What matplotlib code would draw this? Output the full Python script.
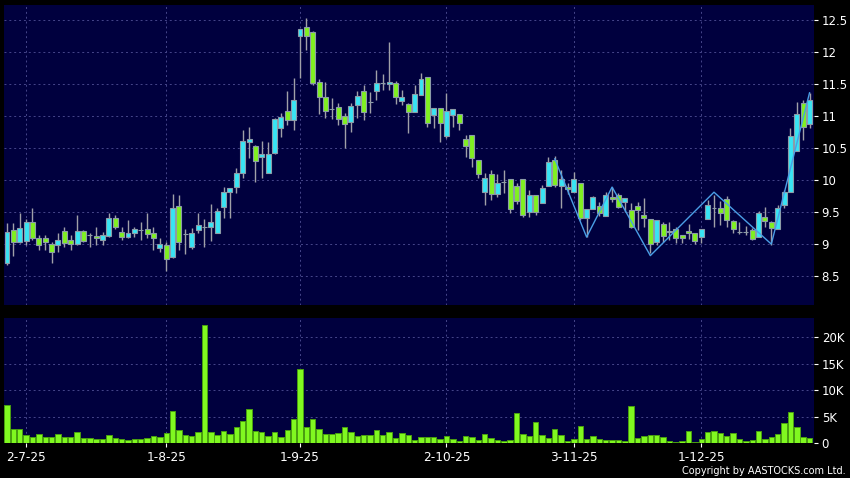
import numpy as np
from matplotlib import pyplot as plt

#----------------- donnees -----------------

opens = [8.70, 9.22, 9.03, 9.05, 9.35, 9.10, 9.10, 9.00, 8.98, 9.20,
         9.06, 9.00, 9.20, 9.14, 9.12, 9.06, 9.13, 9.40, 9.19, 9.11,
         9.17, 9.22, 9.23, 9.17, 8.94, 8.98, 8.80, 9.59, 9.16, 8.96,
         9.22, 9.27, 9.26, 9.17, 9.58, 9.81, 9.89, 10.11, 10.59, 10.53,
         10.36, 10.11, 10.42, 10.81, 11.08, 10.94, 12.25, 12.39, 12.31, 11.53,
         11.30, 11.11, 11.14, 11.00, 10.91, 11.17, 11.39, 11.22, 11.39, 11.52,
         11.50, 11.52, 11.23, 11.19, 11.06, 11.33, 11.61, 11.02, 11.13, 10.69,
         11.02, 11.03, 10.64, 10.70, 10.31, 9.81, 10.09, 9.78, 9.97, 10.02,
         9.91, 10.02, 9.50, 9.77, 9.64, 9.91, 10.31, 9.91, 9.89, 9.81,
         9.95, 9.41, 9.55, 9.59, 9.44, 9.74, 9.77, 9.66, 9.53, 9.59,
         9.45, 9.39, 9.03, 9.31, 9.19, 9.23, 9.14, 9.20, 9.17, 9.11,
         9.39, 9.56, 9.56, 9.70, 9.36, 9.19, 9.19, 9.22, 9.11, 9.42,
         9.34, 9.23, 9.61, 9.81, 10.45, 11.20, 10.88]
highs = [9.33, 9.33, 9.48, 9.39, 9.56, 9.14, 9.14, 9.04, 9.18, 9.27,
         9.14, 9.45, 9.22, 9.17, 9.27, 9.19, 9.48, 9.45, 9.27, 9.38,
         9.27, 9.35, 9.48, 9.27, 9.09, 9.04, 9.78, 9.77, 9.23, 9.25,
         9.48, 9.39, 9.63, 9.56, 9.89, 9.87, 10.19, 10.78, 10.83, 10.55,
         10.61, 10.59, 10.97, 11.05, 11.39, 11.59, 12.36, 12.52, 12.33, 11.58,
         11.53, 11.28, 11.20, 11.05, 11.20, 11.39, 11.48, 11.38, 11.72, 11.66,
         12.16, 11.55, 11.41, 11.20, 11.48, 11.67, 11.61, 11.13, 11.13, 11.36,
         11.11, 11.03, 10.70, 10.70, 10.31, 10.11, 10.16, 10.09, 10.16, 10.02,
         9.95, 10.02, 9.84, 9.77, 9.92, 10.36, 10.38, 10.16, 9.95, 10.13,
         9.95, 9.55, 9.75, 9.66, 9.81, 9.89, 9.80, 9.72, 9.64, 9.66,
         9.72, 9.39, 9.38, 9.34, 9.34, 9.27, 9.14, 9.31, 9.17, 9.23,
         9.69, 9.77, 9.67, 9.75, 9.38, 9.34, 9.28, 9.25, 9.52, 9.58,
         9.36, 9.61, 9.84, 10.81, 11.22, 11.25, 11.36]
lows = [8.67, 8.81, 9.02, 8.98, 9.06, 8.91, 8.91, 8.70, 8.88, 8.96,
        8.91, 8.98, 9.04, 8.96, 8.98, 8.98, 9.11, 9.23, 9.06, 9.09,
        9.11, 9.06, 9.09, 8.91, 8.88, 8.58, 8.78, 8.91, 8.84, 8.93,
        9.17, 8.95, 9.05, 9.17, 9.41, 9.41, 9.80, 10.03, 10.34, 9.97,
        10.03, 10.11, 10.40, 10.67, 10.86, 10.78, 11.59, 12.03, 11.48, 11.03,
        10.97, 10.95, 10.86, 10.50, 10.75, 10.97, 10.94, 11.05, 11.25, 11.41,
        11.41, 11.19, 11.17, 10.73, 11.06, 11.33, 10.83, 10.81, 10.59, 10.66,
        10.83, 10.78, 10.36, 10.20, 10.03, 9.61, 9.69, 9.73, 9.80, 9.48,
        9.63, 9.42, 9.42, 9.45, 9.64, 9.91, 9.89, 9.57, 9.78, 9.81,
        9.38, 9.11, 9.55, 9.44, 9.44, 9.66, 9.56, 9.50, 9.25, 9.22,
        9.27, 8.86, 8.98, 9.03, 9.06, 9.02, 9.02, 9.08, 9.00, 9.02,
        9.39, 9.27, 9.30, 9.27, 9.17, 9.16, 9.14, 9.06, 9.11, 9.27,
        8.98, 9.23, 9.56, 9.81, 10.45, 10.63, 10.81]
closes = [9.19, 9.03, 9.25, 9.35, 9.09, 8.98, 9.03, 8.87, 9.07, 9.01,
          9.00, 9.20, 9.05, 9.14, 9.09, 9.14, 9.40, 9.27, 9.11, 9.17,
          9.23, 9.22, 9.16, 9.09, 9.00, 8.76, 9.57, 9.04, 9.16, 9.18,
          9.30, 9.27, 9.34, 9.52, 9.81, 9.87, 10.11, 10.61, 10.64, 10.30,
          10.41, 10.41, 10.95, 10.98, 10.94, 11.25, 12.36, 12.25, 11.52, 11.30,
          11.08, 11.11, 10.95, 10.87, 11.16, 11.31, 11.06, 11.22, 11.52, 11.52,
          11.53, 11.30, 11.30, 11.06, 11.34, 11.58, 10.89, 11.13, 10.89, 11.08,
          11.11, 10.89, 10.53, 10.34, 10.09, 10.03, 9.78, 9.95, 9.97, 9.55,
          9.67, 9.45, 9.77, 9.50, 9.88, 10.28, 9.92, 10.02, 9.86, 10.02,
          9.41, 9.55, 9.73, 9.48, 9.77, 9.70, 9.58, 9.72, 9.27, 9.53,
          9.41, 9.00, 9.38, 9.13, 9.21, 9.09, 9.09, 9.17, 9.05, 9.23,
          9.61, 9.56, 9.48, 9.38, 9.23, 9.19, 9.19, 9.08, 9.48, 9.36,
          9.25, 9.56, 9.81, 10.69, 11.03, 10.83, 11.25]

# volume en milliers d'actions
volume_k = [7.2, 2.7, 2.7, 1.6, 1.1, 1.75, 1.05, 1.2, 1.75, 1.05,
            1.2, 2.1, 1.0, 1.0, 0.75, 0.75, 1.45, 1.0, 0.8, 0.5,
            0.8, 0.8, 1.0, 1.25, 1.15, 1.9, 6.1, 2.5, 1.45, 1.4,
            2.1, 22.3, 2.0, 1.45, 2.3, 1.75, 2.95, 4.2, 6.5, 2.3,
            2.0, 1.4, 2.0, 1.2, 2.4, 4.6, 14.0, 3.1, 4.5, 2.6,
            1.75, 1.75, 1.9, 2.95, 2.0, 1.4, 1.6, 1.6, 2.5, 1.6,
            2.0, 1.0, 1.8, 1.6, 0.6, 1.2, 1.1, 1.15, 0.8, 1.25,
            0.75, 0.45, 1.3, 1.2, 0.6, 1.7, 1.0, 0.55, 0.45, 0.6,
            5.7, 1.75, 1.3, 3.9, 1.6, 0.9, 2.7, 1.6, 0.4, 0.75,
            3.3, 0.8, 1.4, 0.8, 0.55, 0.55, 0.55, 0.4, 7.0, 1.0,
            1.25, 1.6, 1.5, 1.05, 0.45, 0.2, 0.3, 2.3, 0.15, 0.75,
            2.1, 2.2, 1.9, 1.25, 1.9, 0.8, 0.4, 0.6, 2.2, 0.75,
            1.2, 1.75, 3.8, 5.9, 3.0, 1.2, 1.0]

# ligne zigzag (indice de seance, prix)
zigzag_idx = [86, 91, 95, 101, 111, 120, 126]
zigzag_val = [10.33, 9.11, 9.89, 8.82, 9.81, 9.00, 11.36]

date_pos = [3, 25, 46, 69, 89, 109]
date_labels = ["2-7-25", "1-8-25", "1-9-25", "2-10-25", "3-11-25", "1-12-25"]

price_ticks = [8.5, 9, 9.5, 10, 10.5, 11, 11.5, 12, 12.5]
price_labels = ["8.5", "9", "9.5", "10", "10.5", "11", "11.5", "12", "12.5"]
vol_ticks = [0, 5, 10, 15, 20]
vol_labels = ["0", "5K", "10K", "15K", "20K"]

#----------------- couleurs -----------------

BG = "#00003e"
UP = "#38e4f4"
DOWN = "#80f020"
EDGE = "#8c9ca8"
WICK = "#a0a0a8"
GRID = "#46468a"
DASH = (0, (2, 3))

o = np.array(opens)
h = np.array(highs)
l = np.array(lows)
c = np.array(closes)
x = np.arange(len(o))

fig = plt.figure(figsize=(8.5, 4.78), dpi=100, facecolor="black")
ax = fig.add_axes([4/850, 1 - 305/478, 810/850, 300/478], facecolor=BG)
axv = fig.add_axes([4/850, 1 - 443/478, 810/850, 125/478], facecolor=BG)

#----------------- chandeliers -----------------

ax.vlines(x, l, h, color=WICK, linewidth=1, zorder=2)
body_col = [UP if cc > oo else DOWN for oo, cc in zip(o, c)]
ax.bar(x, c - o, bottom=o, width=0.78, color=body_col, edgecolor=EDGE,
       linewidth=0.8, zorder=3)
ax.plot(zigzag_idx, zigzag_val, color="#4a9ee6", linewidth=1, zorder=4)

#----------------- volume -----------------

axv.bar(x, volume_k, width=0.85, color="#80f820", edgecolor="#4aa010",
        linewidth=0.7, zorder=3)

#----------------- axes -----------------

for a in (ax, axv):
    a.set_xlim(-0.47, 126.7)
    for s in a.spines.values():
        s.set_visible(False)
    a.yaxis.tick_right()
    a.tick_params(axis="y", colors="white", labelsize=8.5, length=3,
                  width=0.8, pad=2.5)
    for xp in date_pos:
        a.axvline(xp, color=GRID, linestyle=DASH, linewidth=0.7, zorder=1)

ax.set_ylim(8.05, 12.73)
ax.set_yticks(price_ticks)
ax.set_yticklabels(price_labels)
ax.set_xticks([])
for yp in price_ticks:
    ax.axhline(yp, color=GRID, linestyle=DASH, linewidth=0.7, zorder=1)

axv.set_ylim(0, 23.6)
axv.set_yticks(vol_ticks)
axv.set_yticklabels(vol_labels)
for yp in vol_ticks[1:]:
    axv.axhline(yp, color=GRID, linestyle=DASH, linewidth=0.7, zorder=1)
axv.set_xticks(date_pos)
axv.set_xticklabels(date_labels)
axv.tick_params(axis="x", colors="white", labelsize=8.7, length=3,
                width=0.8, pad=3)

fig.text(846/850, 1 - 471/478, "Copyright by AASTOCKS.com Ltd.", color="white",
         fontsize=7, ha="right", va="center")

fig.savefig("out.png", dpi=100, facecolor="black")
